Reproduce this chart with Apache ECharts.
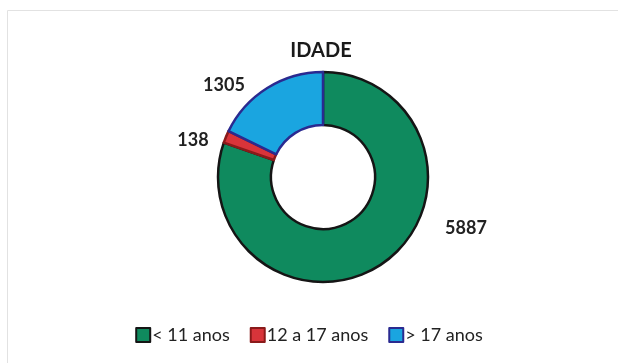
<!DOCTYPE html>
<html lang="pt">
<head>
  <meta charset="UTF-8">
  <title>IDADE</title>
  <script src="https://cdn.jsdelivr.net/npm/echarts@6/dist/echarts.min.js"></script>
  <style>
    html, body { margin: 0; padding: 0; background: #fff; }
  </style>
</head>
<body>
  <div id="main" style="width: 618px;height:363px;"></div>
  <script>
    // dados
    var categorias = ['< 11 anos', '12 a 17 anos', '> 17 anos'];
    var valores = [5887, 138, 1305];

    var cores = ['#0f8a5e', '#d8343a', '#1aa5e0'];
    var bordas = ['#151515', '#8a1a1a', '#2a2a90'];

    // posição dos rótulos (como no Excel)
    var posRotulo = [[466, 228], [193, 140], [224, 85]];

    var myChart = echarts.init(document.getElementById('main'));

    var option = {
      backgroundColor: '#fff',
      textStyle: { fontFamily: 'Lato' },
      graphic: [
        {
          type: 'rect',
          shape: { x: 7.5, y: 10.5, width: 640, height: 380 },
          style: { fill: 'none', stroke: '#e2e2e2', lineWidth: 1 }
        }
      ],
      title: {
        text: 'IDADE',
        left: 316,
        top: 36,
        textAlign: 'center',
        textStyle: { fontFamily: 'Lato', fontWeight: 'bold', fontSize: 20, color: '#1a1a1a' }
      },
      legend: {
        bottom: 14,
        left: 'center',
        itemWidth: 14,
        itemHeight: 14,
        itemGap: 20,
        icon: 'rect',
        textStyle: { fontFamily: 'Lato', fontSize: 18, color: '#222', padding: [0, 0, 0, -3] },
        data: categorias
      },
      series: [
        {
          type: 'pie',
          center: [323, 177],
          radius: [52, 105],
          startAngle: 90,
          clockwise: true,
          animation: false,
          label: {
            show: true,
            position: 'outside',
            formatter: '{c}',
            fontFamily: 'Lato',
            fontWeight: 'bold',
            fontSize: 18,
            color: '#222'
          },
          labelLine: { show: false },
          labelLayout: function (p) {
            var xy = posRotulo[p.dataIndex];
            return { x: xy[0], y: xy[1], align: 'center', verticalAlign: 'middle' };
          },
          emphasis: { disabled: true },
          data: categorias.map(function (nome, i) {
            return {
              name: nome,
              value: valores[i],
              itemStyle: { color: cores[i], borderColor: bordas[i], borderWidth: 2.5 }
            };
          })
        }
      ]
    };

    myChart.setOption(option);
  </script>
</body>
</html>
